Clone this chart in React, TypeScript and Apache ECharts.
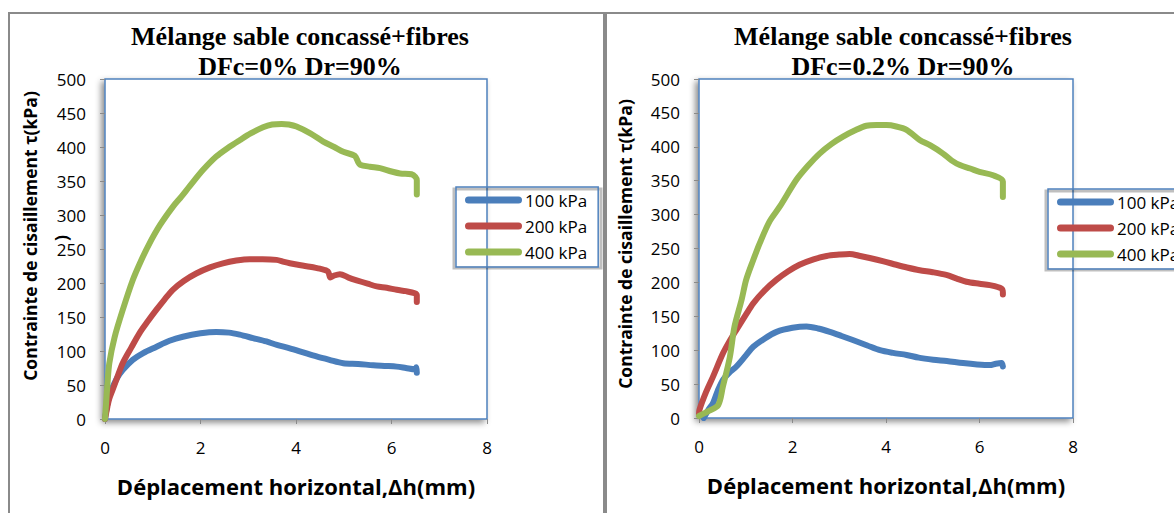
import React, { useEffect, useRef } from "react";
import * as echarts from "echarts";

// Shear curves, DFc = 0 % (left panel): [horizontal displacement mm, shear stress kPa]
const dfc0_100: number[][] = [[0,0],[0.05,22],[0.1,38],[0.16,47],[0.25,60],[0.37,72],[0.58,87],[0.8,97],[1.07,106],[1.35,115],[1.63,121],[2.0,126],[2.33,128],[2.6,127],[2.82,124],[3.1,119],[3.38,114],[3.6,109],[3.87,104],[4.15,98],[4.43,92],[4.7,87],[4.99,82],[5.3,81],[5.62,79],[5.9,78],[6.11,77],[6.3,75],[6.49,73],[6.52,76],[6.53,68]];
const dfc0_200: number[][] = [[0,0],[0.05,18],[0.09,30],[0.16,43],[0.25,60],[0.37,82],[0.55,105],[0.72,126],[0.9,144],[1.07,160],[1.25,176],[1.42,190],[1.65,203],[1.91,214],[2.2,223],[2.47,229],[2.75,233],[3.03,235],[3.3,235],[3.59,234],[3.75,231],[3.87,229],[4.1,226],[4.29,224],[4.5,221],[4.67,217],[4.72,208],[4.8,211],[4.92,213],[5.1,208],[5.27,204],[5.5,199],[5.69,195],[5.9,193],[6.11,190],[6.3,188],[6.49,185],[6.53,182],[6.53,172]];
const dfc0_400: number[][] = [[0,0],[0.02,20],[0.05,50],[0.09,82],[0.2,120],[0.37,160],[0.58,204],[0.75,232],[0.93,258],[1.15,285],[1.42,312],[1.6,327],[1.77,342],[2.05,366],[2.33,386],[2.6,400],[2.82,410],[3.05,420],[3.31,429],[3.5,433],[3.7,434],[3.85,433],[4.01,430],[4.3,420],[4.57,408],[4.8,400],[4.99,393],[5.23,387],[5.3,378],[5.34,374],[5.55,371],[5.76,369],[6.0,364],[6.18,361],[6.42,360],[6.5,356],[6.53,351],[6.53,330]];

// Shear curves, DFc = 0.2 % (right panel)
const dfc02_100: number[][] = [[0.1,0],[0.2,12],[0.3,22],[0.4,40],[0.51,56],[0.65,67],[0.8,76],[1.0,92],[1.16,105],[1.4,117],[1.66,127],[2.0,133],[2.3,135],[2.55,132],[2.8,127],[3.05,121],[3.29,115],[3.6,107],[3.87,100],[4.15,96],[4.44,93],[4.7,89],[5.01,86],[5.3,84],[5.65,81],[5.95,79],[6.22,78],[6.35,80],[6.47,81],[6.5,76]];
const dfc02_200: number[][] = [[0,5],[0.01,12],[0.15,38],[0.3,61],[0.51,95],[0.65,113],[0.8,130],[1.0,152],[1.16,169],[1.4,188],[1.66,204],[1.9,216],[2.15,226],[2.45,234],[2.73,239],[3.0,241],[3.22,242],[3.45,239],[3.65,236],[3.95,231],[4.22,226],[4.45,222],[4.72,218],[5.0,215],[5.29,211],[5.5,206],[5.72,201],[6.0,198],[6.22,196],[6.47,191],[6.5,185],[6.5,182]];
const dfc02_400: number[][] = [[0,3],[0.2,10],[0.41,19],[0.51,46],[0.66,90],[0.76,135],[0.91,174],[1.01,204],[1.16,233],[1.3,258],[1.51,290],[1.73,312],[2.08,351],[2.33,372],[2.58,390],[2.83,404],[3.08,415],[3.33,424],[3.58,431],[3.8,432],[4.01,432],[4.22,430],[4.44,425],[4.72,410],[4.95,402],[5.22,390],[5.4,380],[5.58,373],[5.8,368],[6.0,363],[6.29,358],[6.5,349],[6.5,326]];

const seriesNames = ["100 kPa", "200 kPa", "400 kPa"];
const seriesColors = ["#4A7EBB", "#BE4B48", "#98B954"];
const panelTitles = [
  ["Mélange sable concassé+fibres", "DFc=0% Dr=90%"],
  ["Mélange sable concassé+fibres", "DFc=0.2% Dr=90%"],
];
const xAxisTitle = "Déplacement horizontal,Δh(mm)";
const yAxisTitle = "Contrainte de cisaillement τ(kPa)";

const SANS = "'Open Sans', 'Noto Sans', sans-serif";
const SERIF = "'Liberation Serif', 'Times New Roman', serif";
const FRAME = "#8a8a8a";
const PLOT_BORDER = "#4F81BD";

const capsule = "path://M3.5,0H53.5A3.5,3.5,0,0,1,53.5,7H3.5A3.5,3.5,0,0,1,3.5,0Z";

export default function App() {
  const ref = useRef<HTMLDivElement>(null);

  useEffect(() => {
    if (!ref.current) return;
    const chart = echarts.init(ref.current, null, { renderer: "svg" });

    const grids = [
      { left: 105, top: 79, width: 382, height: 340 },
      { left: 699, top: 79, width: 374, height: 339 },
    ];

    const axisLabel = { color: "#000", fontSize: 17, fontFamily: SANS, margin: 19 };
    const axisTick = { show: true, length: 5, lineStyle: { color: FRAME, width: 1 } };

    const xAxes = grids.map((_, i) => ({
      type: "value" as const,
      gridIndex: i,
      min: 0,
      max: 8,
      interval: 2,
      axisLine: { show: false },
      axisTick,
      splitLine: { show: false },
      axisLabel: { ...axisLabel, margin: 20 },
      name: xAxisTitle,
      nameLocation: "middle" as const,
      nameGap: 56,
      nameTextStyle: { color: "#000", fontSize: 22, fontWeight: "bold" as const, fontFamily: SANS },
    }));

    const yAxes = grids.map((_, i) => ({
      type: "value" as const,
      gridIndex: i,
      min: 0,
      max: 500,
      interval: 50,
      axisLine: { show: false },
      axisTick,
      splitLine: { show: false },
      axisLabel,
    }));

    const panels = [
      [dfc0_100, dfc0_200, dfc0_400],
      [dfc02_100, dfc02_200, dfc02_400],
    ];

    const series: any[] = [];
    panels.forEach((curves, p) => {
      curves.forEach((data, k) => {
        series.push({
          type: "line",
          name: seriesNames[k],
          xAxisIndex: p,
          yAxisIndex: p,
          data,
          smooth: 0.3,
          showSymbol: false,
          color: seriesColors[k],
          lineStyle: { width: 6, color: seriesColors[k], cap: "round", join: "round" },
          z: 3 + k,
        });
      });
    });

    const legendBase = {
      orient: "vertical" as const,
      data: seriesNames,
      icon: capsule,
      itemWidth: 57,
      itemHeight: 7,
      itemGap: 6,
      borderColor: PLOT_BORDER,
      borderWidth: 1.5,
      borderRadius: 0,
      padding: [3, 11, 5, 9],
      textStyle: { color: "#000", fontSize: 17, fontFamily: SANS, lineHeight: 20, padding: [0, 0, 0, -2] },
      selectedMode: false,
    };

    const titleTexts: any[] = [];
    const titleCenters = [300, 903];
    panelTitles.forEach((lines, p) => {
      lines.forEach((t, j) => {
        titleTexts.push({
          type: "text",
          x: titleCenters[p],
          y: 36 + j * 30,
          style: {
            text: t,
            font: `bold 26px ${SERIF}`,
            fill: "#000",
            textAlign: "center",
            textVerticalAlign: "middle",
            align: "center",
            verticalAlign: "middle",
          },
        });
      });
    });

    const yTitle = (x: number, y: number, text: string) => ({
      type: "text",
      x,
      y,
      rotation: Math.PI / 2,
      style: {
        text,
        font: `bold 17.5px ${SANS}`,
        fill: "#000",
        textAlign: "center",
        textVerticalAlign: "middle",
        align: "center",
        verticalAlign: "middle",
      },
    });

    // soft drop shadow behind each legend box
    const legendShadow = (x: number, y: number) => ({
      type: "rect",
      shape: { x, y, width: 147, height: 79 },
      style: { fill: "rgba(0,0,0,0)", stroke: "rgba(0,0,0,0.25)", lineWidth: 3 },
      x: -2,
      y: 2,
      z: 1,
    });

    chart.setOption({
      animation: false,
      backgroundColor: "#fff",
      grid: grids.map((g) => ({
        ...g,
        show: true,
        backgroundColor: "#fff",
        borderColor: PLOT_BORDER,
        borderWidth: 1.5,
        shadowColor: "rgba(0,0,0,0.45)",
        shadowBlur: 6,
        shadowOffsetX: -3,
        shadowOffsetY: 3,
      })),
      xAxis: xAxes,
      yAxis: yAxes,
      legend: [
        { ...legendBase, left: 456, top: 187 },
        { ...legendBase, left: 1048, top: 189 },
      ],
      series,
      graphic: [
        // outer frames of the two panels
        { type: "rect", shape: { x: 9, y: 13, width: 595, height: 530 }, style: { fill: "none", stroke: FRAME, lineWidth: 2 }, z: 0 },
        { type: "rect", shape: { x: 606, y: 13, width: 600, height: 530 }, style: { fill: "none", stroke: FRAME, lineWidth: 2 }, z: 0 },
        legendShadow(456, 187),
        legendShadow(1048, 189),
        ...titleTexts,
        yTitle(30, 236, yAxisTitle),
        yTitle(61, 238, ")"),
        yTitle(625, 244, yAxisTitle),
      ],
    });

    return () => chart.dispose();
  }, []);

  return (
    <div
      ref={ref}
      style={{ position: "absolute", left: 0, top: 0, width: 1174, height: 513, background: "#fff" }}
    />
  );
}
